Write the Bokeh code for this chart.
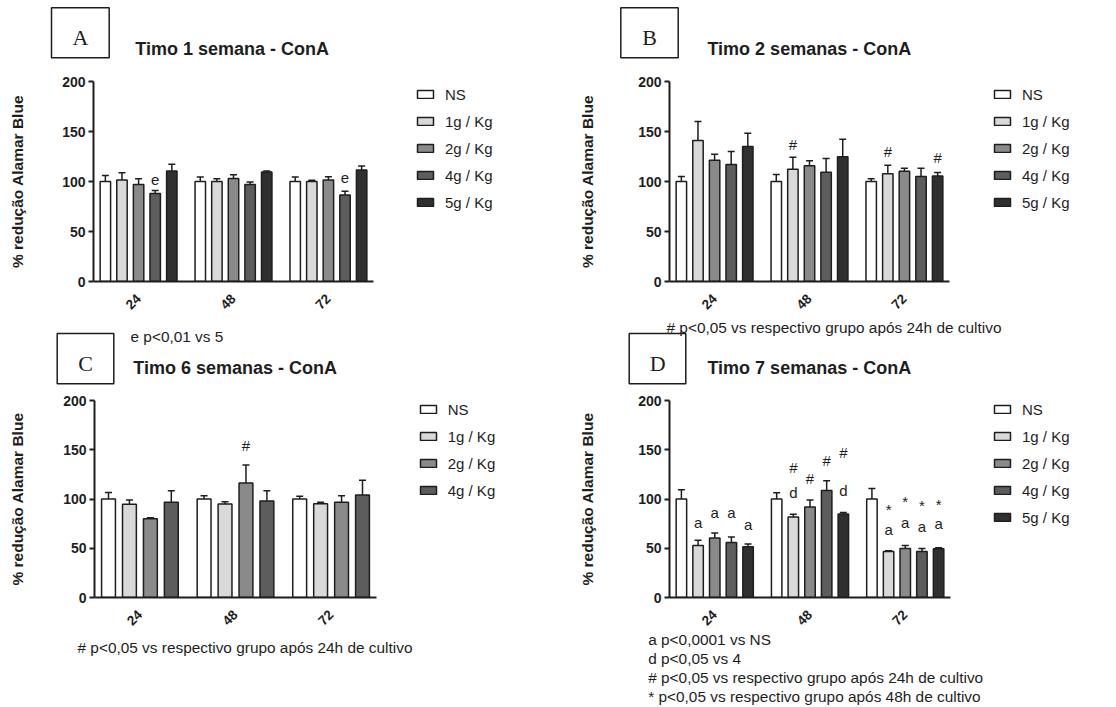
import math
from bokeh.plotting import figure
from bokeh.models import (Range1d, FixedTicker, Label, Legend, LegendItem, Whisker,
                          ColumnDataSource, TeeHead, BoxAnnotation)
from bokeh.core.properties import value
from bokeh.layouts import column, row
from bokeh.embed import file_html
from bokeh.resources import INLINE

FONT = "Liberation Sans"
SERIF = "Liberation Serif"
INK = "#1e1e1e"

# ---------------- data ----------------
times = ["24", "48", "72"]
series_names = ["NS", "1g / Kg", "2g / Kg", "4g / Kg", "5g / Kg"]
fills = ["#ffffff", "#d9d9d9", "#8a8a8a", "#5d5d5d", "#303030"]

# Panel A - Timo 1 semana
a_ns = [100, 100, 100]
a_1g = [101.5, 100, 100]
a_2g = [97, 103, 101.5]
a_4g = [88, 97, 86.5]
a_5g = [110.5, 109.5, 111.5]
a_ns_sem = [6, 4.5, 4.5]
a_1g_sem = [7.3, 2.8, 1.2]
a_2g_sem = [5.8, 3.7, 3.3]
a_4g_sem = [3, 2.4, 3.7]
a_5g_sem = [6.7, 1, 4]
a_marks = [(0, 3, "e", 102), (2, 3, "e", 103.5)]

# Panel B - Timo 2 semanas
b_ns = [100, 100, 100]
b_1g = [141, 112.3, 107.7]
b_2g = [121.3, 115.7, 110.3]
b_4g = [117, 109.3, 105]
b_5g = [135, 124.7, 105.5]
b_ns_sem = [5, 7, 2.7]
b_1g_sem = [19, 12, 8.6]
b_2g_sem = [6, 5, 3]
b_4g_sem = [13, 13.7, 8.3]
b_5g_sem = [13.3, 17.6, 3.5]
b_marks = [(1, 1, "#", 137), (2, 1, "#", 130), (2, 4, "#", 124)]

# Panel C - Timo 6 semanas
c_ns = [100, 100, 100]
c_1g = [94.7, 95, 95.3]
c_2g = [80, 116.3, 96.7]
c_4g = [96.7, 98, 104]
c_ns_sem = [6.6, 3.3, 2.7]
c_1g_sem = [4.3, 2.3, 1.4]
c_2g_sem = [1, 18.3, 6.6]
c_4g_sem = [11.6, 10.3, 15]
c_marks = [(1, 2, "#", 154.8)]

# Panel D - Timo 7 semanas
d_ns = [100, 100, 100]
d_1g = [52.8, 81.7, 46.8]
d_2g = [60.5, 92, 49.8]
d_4g = [55.8, 108.6, 46.8]
d_5g = [51.5, 84.7, 49.5]
d_ns_sem = [9.5, 6.3, 10.6]
d_1g_sem = [5.3, 2.7, 0.7]
d_2g_sem = [4.9, 7, 3]
d_4g_sem = [5.7, 10, 3]
d_5g_sem = [2.7, 1.7, 1]
d_marks = [(0, 1, "a", 75.7), (0, 2, "a", 86.7), (0, 3, "a", 86.7), (0, 4, "a", 74),
           (1, 1, "#", 132), (1, 1, "d", 106.6), (1, 2, "#", 120.6), (1, 3, "#", 138.9),
           (1, 4, "#", 147), (1, 4, "d", 109),
           (2, 1, "*", 92.3), (2, 1, "a", 69), (2, 2, "*", 100.6), (2, 2, "a", 75.7),
           (2, 3, "*", 96.3), (2, 3, "a", 72.4), (2, 4, "*", 97.3), (2, 4, "a", 75)]

note_a = "e p<0,01 vs 5"
note_24h = "# p<0,05 vs respectivo grupo após 24h de cultivo"
notes_d = ["a p<0,0001 vs NS", "d p<0,05 vs 4",
           "# p<0,05 vs respectivo grupo  após 24h de cultivo",
           "* p<0,05 vs respectivo grupo após 48h de cultivo"]
y_title = "% redução Alamar Blue"

X0, X1 = -0.475, 2.475   # extent of the category axis
NOTE = "15.4px"


def text_strip(W, H, top_abs, left_abs, boxes=(), labels=()):
    """A figure without axes whose frame fills the whole canvas; its ranges are
    page pixels (y downward) so texts and frames are placed by page position."""
    p = figure(width=W, height=H, x_axis_type=None, y_axis_type=None, title=None,
               output_backend="svg", toolbar_location=None,
               min_border_left=0, min_border_right=0, min_border_top=0, min_border_bottom=0,
               x_range=Range1d(left_abs, left_abs + W),
               y_range=Range1d(top_abs + H, top_abs))
    p.outline_line_color = None
    p.grid.visible = False
    p.background_fill_color = "white"
    p.border_fill_color = "white"
    for (l, r_, t, b) in boxes:
        p.add_layout(BoxAnnotation(left=l, right=r_, top=t, bottom=b,
                                   fill_alpha=0, line_color=INK, line_width=1.5,
                                   line_alpha=1))
    for lab in labels:
        x, base, txt, font, size, style, align = lab
        px = float(size.replace("px", ""))
        p.add_layout(Label(x=x, y=base - 0.33 * px, text=txt, text_font=font,
                           text_font_size=size, text_font_style=style, text_color=INK,
                           text_align=align, text_baseline="alphabetic"))
    return p


def chart(cfg):
    FL, FB = cfg["FL"], cfg["FB"]
    W = cfg["W"]
    mbl, mbt, mbb = cfg["mb"]
    frame_w = W - mbl
    px_per_unit = cfg["axis_px"] / (X1 - X0)
    p = figure(width=W, height=cfg["H"], title=None,
               x_range=Range1d(X0, X0 + frame_w / px_per_unit),
               y_range=Range1d(0, 200), output_backend="svg", toolbar_location=None,
               min_border_left=mbl, min_border_right=0,
               min_border_top=mbt, min_border_bottom=mbb)
    p.outline_line_color = None
    p.grid.visible = False
    p.background_fill_color = "white"
    p.border_fill_color = "white"

    for ax in (p.xaxis[0], p.yaxis[0]):
        ax.axis_line_width = 2
        ax.axis_line_color = INK
        ax.minor_tick_line_color = None
        ax.major_label_text_font = FONT
        ax.major_label_text_font_style = "bold"
        ax.major_label_text_color = INK
    p.xaxis.bounds = (X0, X1)
    p.xaxis.ticker = FixedTicker(ticks=list(range(len(times))))
    p.xaxis.major_label_overrides = {i: t for i, t in enumerate(times)}
    p.xaxis.major_tick_line_color = None
    p.xaxis.major_label_orientation = math.pi / 4
    p.xaxis.major_label_text_font_size = "13.5px"
    p.xaxis.major_label_standoff = 9
    p.yaxis.bounds = (0, 200)
    p.yaxis.ticker = FixedTicker(ticks=[0, 50, 100, 150, 200])
    p.yaxis.major_tick_out = 5
    p.yaxis.major_tick_in = 0
    p.yaxis.major_tick_line_width = 2
    p.yaxis.major_tick_line_color = INK
    p.yaxis.major_label_text_font_size = "14px"
    p.yaxis.major_label_standoff = 3
    p.yaxis.axis_label = y_title
    p.yaxis.axis_label_text_font = FONT
    p.yaxis.axis_label_text_font_style = "bold"
    p.yaxis.axis_label_text_font_size = "15.5px"
    p.yaxis.axis_label_text_color = INK
    p.yaxis.axis_label_standoff = cfg["ylab_standoff"]

    def sx(a):
        return a - FL

    def sy(a):
        return FB - a

    names = cfg["names"]
    n = len(names)
    step, bw = cfg["step"], cfg["bw"]
    items = []
    for i, name in enumerate(names):
        off = (i - (n - 1) / 2) * step
        means, sems = cfg["means"][i], cfg["sems"][i]
        src = ColumnDataSource(dict(
            x=[g + off for g in range(len(times))],
            top=means,
            upper=[m + s for m, s in zip(means, sems)]))
        r = p.vbar(x="x", top="top", bottom=0, width=bw, source=src,
                   fill_color=fills[i], line_color=INK, line_width=1.5)
        w = Whisker(base="x", lower="top", upper="upper", source=src,
                    upper_head=TeeHead(size=7, line_color=INK, line_width=1.5),
                    lower_head=None, line_color=INK, line_width=1.5)
        p.add_layout(w)
        items.append(LegendItem(label=name, renderers=[r]))

    reg = {"x": [], "y": [], "t": []}
    ast = {"x": [], "y": [], "t": []}
    for g, s, t, yv in cfg["marks"]:
        d = ast if t == "*" else reg
        d["x"].append(g + (s - (n - 1) / 2) * step)
        d["y"].append(yv)
        d["t"].append(t)
    if reg["x"]:
        p.text(x="x", y="y", text="t", source=ColumnDataSource(reg),
               text_font=value(FONT), text_font_size="15px", text_color=INK,
               text_align="center", text_baseline="middle")
    if ast["x"]:
        p.text(x="x", y="y", text="t", source=ColumnDataSource(ast),
               text_font=value(FONT), text_font_size="15px", text_color=INK,
               text_align="center", text_baseline="middle", y_offset=3)

    lx, ly0 = cfg["legend"]
    row_h, gap = 17, 10
    total = n * row_h + (n - 1) * gap
    bottom_abs = ly0 - row_h / 2 + total
    leg = Legend(items=items, location=(sx(lx), sy(bottom_abs)),
                 glyph_width=20, glyph_height=10, label_height=row_h, spacing=gap,
                 padding=0, margin=0, border_line_color=None, background_fill_alpha=0,
                 label_text_font=FONT, label_text_font_size="15px",
                 label_text_color=INK, label_standoff=10)
    p.add_layout(leg)
    return p


SERIF_L = (SERIF, "22px", "normal", "center")

headA = text_strip(558, 66, 0, 0,
                   boxes=[(51, 108.7, 7.3, 57.3)],
                   labels=[(80, 44.3, "A") + SERIF_L,
                           (231.7, 54, "Timo 1 semana - ConA", FONT, "18px", "bold", "center")])
headB = text_strip(558, 66, 0, 558,
                   boxes=[(620.3, 677.7, 7.3, 57.3)],
                   labels=[(649, 44.3, "B") + SERIF_L,
                           (808.8, 54, "Timo 2 semanas - ConA", FONT, "18px", "bold", "center")])

chartA = chart(dict(
    FL=93, FB=281, W=558, H=254, mb=(93, 15, 39), axis_px=280, ylab_standoff=33,
    names=series_names, means=[a_ns, a_1g, a_2g, a_4g, a_5g],
    sems=[a_ns_sem, a_1g_sem, a_2g_sem, a_4g_sem, a_5g_sem], marks=a_marks,
    step=0.175, bw=0.11, legend=(415, 94.3)))
chartB = chart(dict(
    FL=669, FB=281, W=558, H=254, mb=(111, 15, 39), axis_px=280, ylab_standoff=39,
    names=series_names, means=[b_ns, b_1g, b_2g, b_4g, b_5g],
    sems=[b_ns_sem, b_1g_sem, b_2g_sem, b_4g_sem, b_5g_sem], marks=b_marks,
    step=0.175, bw=0.11, legend=(992, 94.3)))

headC = text_strip(558, 70, 320, 0,
                   boxes=[(56.7, 113.3, 333, 383.3)],
                   labels=[(130, 341, note_a, FONT, NOTE, "normal", "left"),
                           (85, 370, "C") + SERIF_L,
                           (234.7, 373.3, "Timo 6 semanas - ConA", FONT, "18px", "bold", "center")])
headD = text_strip(558, 70, 320, 558,
                   boxes=[(628.7, 685.3, 333, 383.3)],
                   labels=[(666, 332, note_24h, FONT, NOTE, "normal", "left"),
                           (657.3, 370, "D") + SERIF_L,
                           (808.8, 373.3, "Timo 7 semanas - ConA", FONT, "18px", "bold", "center")])

chartC = chart(dict(
    FL=94, FB=601, W=558, H=242, mb=(94, 10, 31), axis_px=282, ylab_standoff=34,
    names=series_names[:4], means=[c_ns, c_1g, c_2g, c_4g],
    sems=[c_ns_sem, c_1g_sem, c_2g_sem, c_4g_sem], marks=c_marks,
    step=0.219, bw=0.145, legend=(417.7, 413.3)))
chartD = chart(dict(
    FL=669, FB=601, W=558, H=242, mb=(111, 10, 31), axis_px=281, ylab_standoff=39,
    names=series_names, means=[d_ns, d_1g, d_2g, d_4g, d_5g],
    sems=[d_ns_sem, d_1g_sem, d_2g_sem, d_4g_sem, d_5g_sem], marks=d_marks,
    step=0.175, bw=0.11, legend=(992, 413.3)))

footC = text_strip(558, 75, 632, 0,
                   labels=[(77, 652, note_24h, FONT, NOTE, "normal", "left")])
footD = text_strip(558, 75, 632, 558,
                   labels=[(647.7, 644 + 19 * k, t, FONT, NOTE, "normal", "left")
                           for k, t in enumerate(notes_d)])

layout = column(row(headA, headB), row(chartA, chartB), row(headC, headD),
                row(chartC, chartD), row(footC, footD))
open("out.html", "w").write(file_html(layout, INLINE))
